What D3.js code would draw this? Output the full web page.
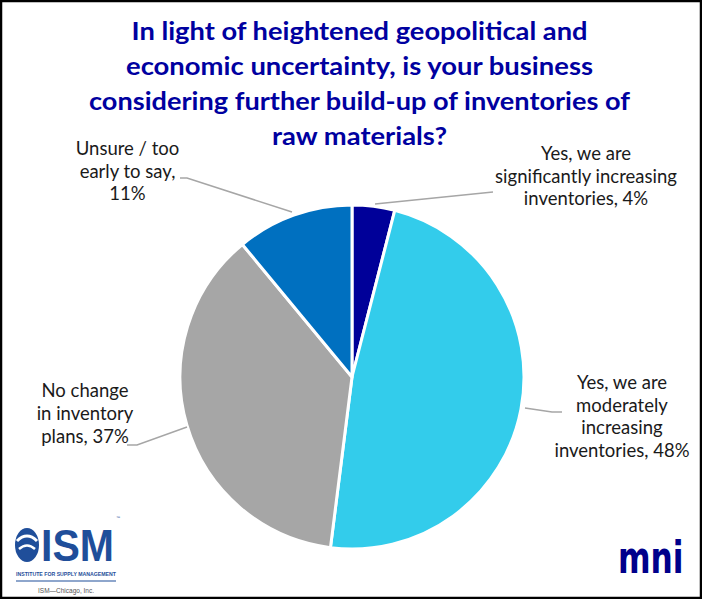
<!DOCTYPE html>
<html><head><meta charset="utf-8">
<script src="https://cdn.jsdelivr.net/npm/d3@7"></script>
<style>html,body{margin:0;padding:0;background:#fff;}svg{display:block;}</style>
</head><body>
<script>
const categories = ["Yes, we are significantly increasing inventories","Yes, we are moderately increasing inventories","No change in inventory plans","Unsure / too early to say"];
const values = [4, 48, 37, 11];
const colors = ["#000099", "#33CCEB", "#A6A6A6", "#0070C0"];
const labelLines = [
  ["Yes, we are","significantly increasing","inventories, 4%"],
  ["Yes, we are","moderately","increasing","inventories, 48%"],
  ["No change","in inventory","plans, 37%"],
  ["Unsure / too","early to say,","11%"]
];
const titleLines = ["In light of heightened geopolitical and","economic uncertainty, is your business","considering further build-up of inventories of","raw materials?"];

const W = 702, H = 599;
const svg = d3.select("body").append("svg").attr("width", W).attr("height", H);
svg.append("rect").attr("x",1).attr("y",1).attr("width",W-2).attr("height",H-2).attr("fill","#fff").attr("stroke","#000").attr("stroke-width",2.5);

const font = "Lato, 'Open Sans', sans-serif";
const titleWidths = [456, 467, 541, 175];
svg.append("g").selectAll("text").data(titleLines).join("text")
  .attr("x", 359.5).attr("y", (d,i)=>40+i*35)
  .attr("text-anchor","middle").attr("font-family",font).attr("font-weight","bold")
  .attr("font-size", 25).attr("fill","#0000A0")
  .attr("textLength",(d,i)=>titleWidths[i]).attr("lengthAdjust","spacingAndGlyphs").text(d=>d);

const cx = 352, cy = 377, R = 172;
const pie = d3.pie().sort(null).value(d=>d)(values);
const arc = d3.arc().innerRadius(0).outerRadius(R);
const g = svg.append("g").attr("transform",`translate(${cx},${cy})`);
g.selectAll("path").data(pie).join("path").attr("d",arc)
  .attr("fill",(d,i)=>colors[i]).attr("stroke","#fff").attr("stroke-width",3).attr("stroke-linejoin","round");

const labelPos = [
  {x:586, y:160, dy:22.5},
  {x:622, y:389, dy:22.7},
  {x:85, y:397, dy:23},
  {x:127.5, y:155, dy:22.5}
];
const leaders = [
  [[493,192],[375,204]],
  [[562,412],[552,412],[525,408]],
  [[127,445],[137,445],[187,427]],
  [[180,178],[187,178],[292,212]]
];
const lg = svg.append("g");
labelLines.forEach((lines,i)=>{
  const p = labelPos[i];
  lg.append("g").selectAll("text").data(lines).join("text")
    .attr("x",p.x).attr("y",(d,j)=>p.y+j*p.dy).attr("text-anchor","middle")
    .attr("font-family",font).attr("font-size",18.5).attr("fill","#1a1a1a").text(d=>d);
  lg.append("path").attr("d", d3.line()(leaders[i])).attr("fill","none").attr("stroke","#A6A6A6").attr("stroke-width",1.5);
});

// ISM logo
const logo = svg.append("g");
logo.append("text").attr("x",41).attr("y",561).attr("font-family","'Liberation Sans', Arial, sans-serif").attr("font-weight","bold")
  .attr("font-size",44).attr("fill","#1F4E9A").attr("textLength",73).attr("lengthAdjust","spacingAndGlyphs").text("ISM");
logo.append("ellipse").attr("cx",27).attr("cy",545).attr("rx",12).attr("ry",17).attr("fill","#1F4E9A");
logo.append("path").attr("d","M17,541 Q27,531 37,541").attr("stroke","#fff").attr("stroke-width",3).attr("fill","none");
logo.append("path").attr("d","M19,549 Q27,542 35,549").attr("stroke","#fff").attr("stroke-width",2.5).attr("fill","none");
logo.append("text").attr("x",16).attr("y",575.5).attr("font-family","'Liberation Sans', Arial, sans-serif").attr("font-weight","bold")
  .attr("font-size",5.5).attr("fill","#1F4E9A").attr("textLength",100).attr("lengthAdjust","spacingAndGlyphs").text("INSTITUTE FOR SUPPLY MANAGEMENT");
logo.append("line").attr("x1",16).attr("x2",116).attr("y1",581).attr("y2",581).attr("stroke","#1F4E9A").attr("stroke-width",1.2);
logo.append("text").attr("x",66).attr("y",593).attr("text-anchor","middle").attr("font-family","'Liberation Sans', Arial, sans-serif")
  .attr("font-size",6.5).attr("fill","#555").text("ISM—Chicago, Inc.");
logo.append("text").attr("x",116).attr("y",519).attr("font-family","'Liberation Sans', Arial, sans-serif").attr("font-size",4).attr("fill","#1F4E9A").text("™");

// mni logo
svg.append("text").attr("transform","translate(618,573) scale(0.92,1.32)").attr("font-family","'DejaVu Sans', sans-serif").attr("font-weight","bold")
  .attr("font-size",34).attr("fill","#00008B").text("mni");
</script>
</body></html>
